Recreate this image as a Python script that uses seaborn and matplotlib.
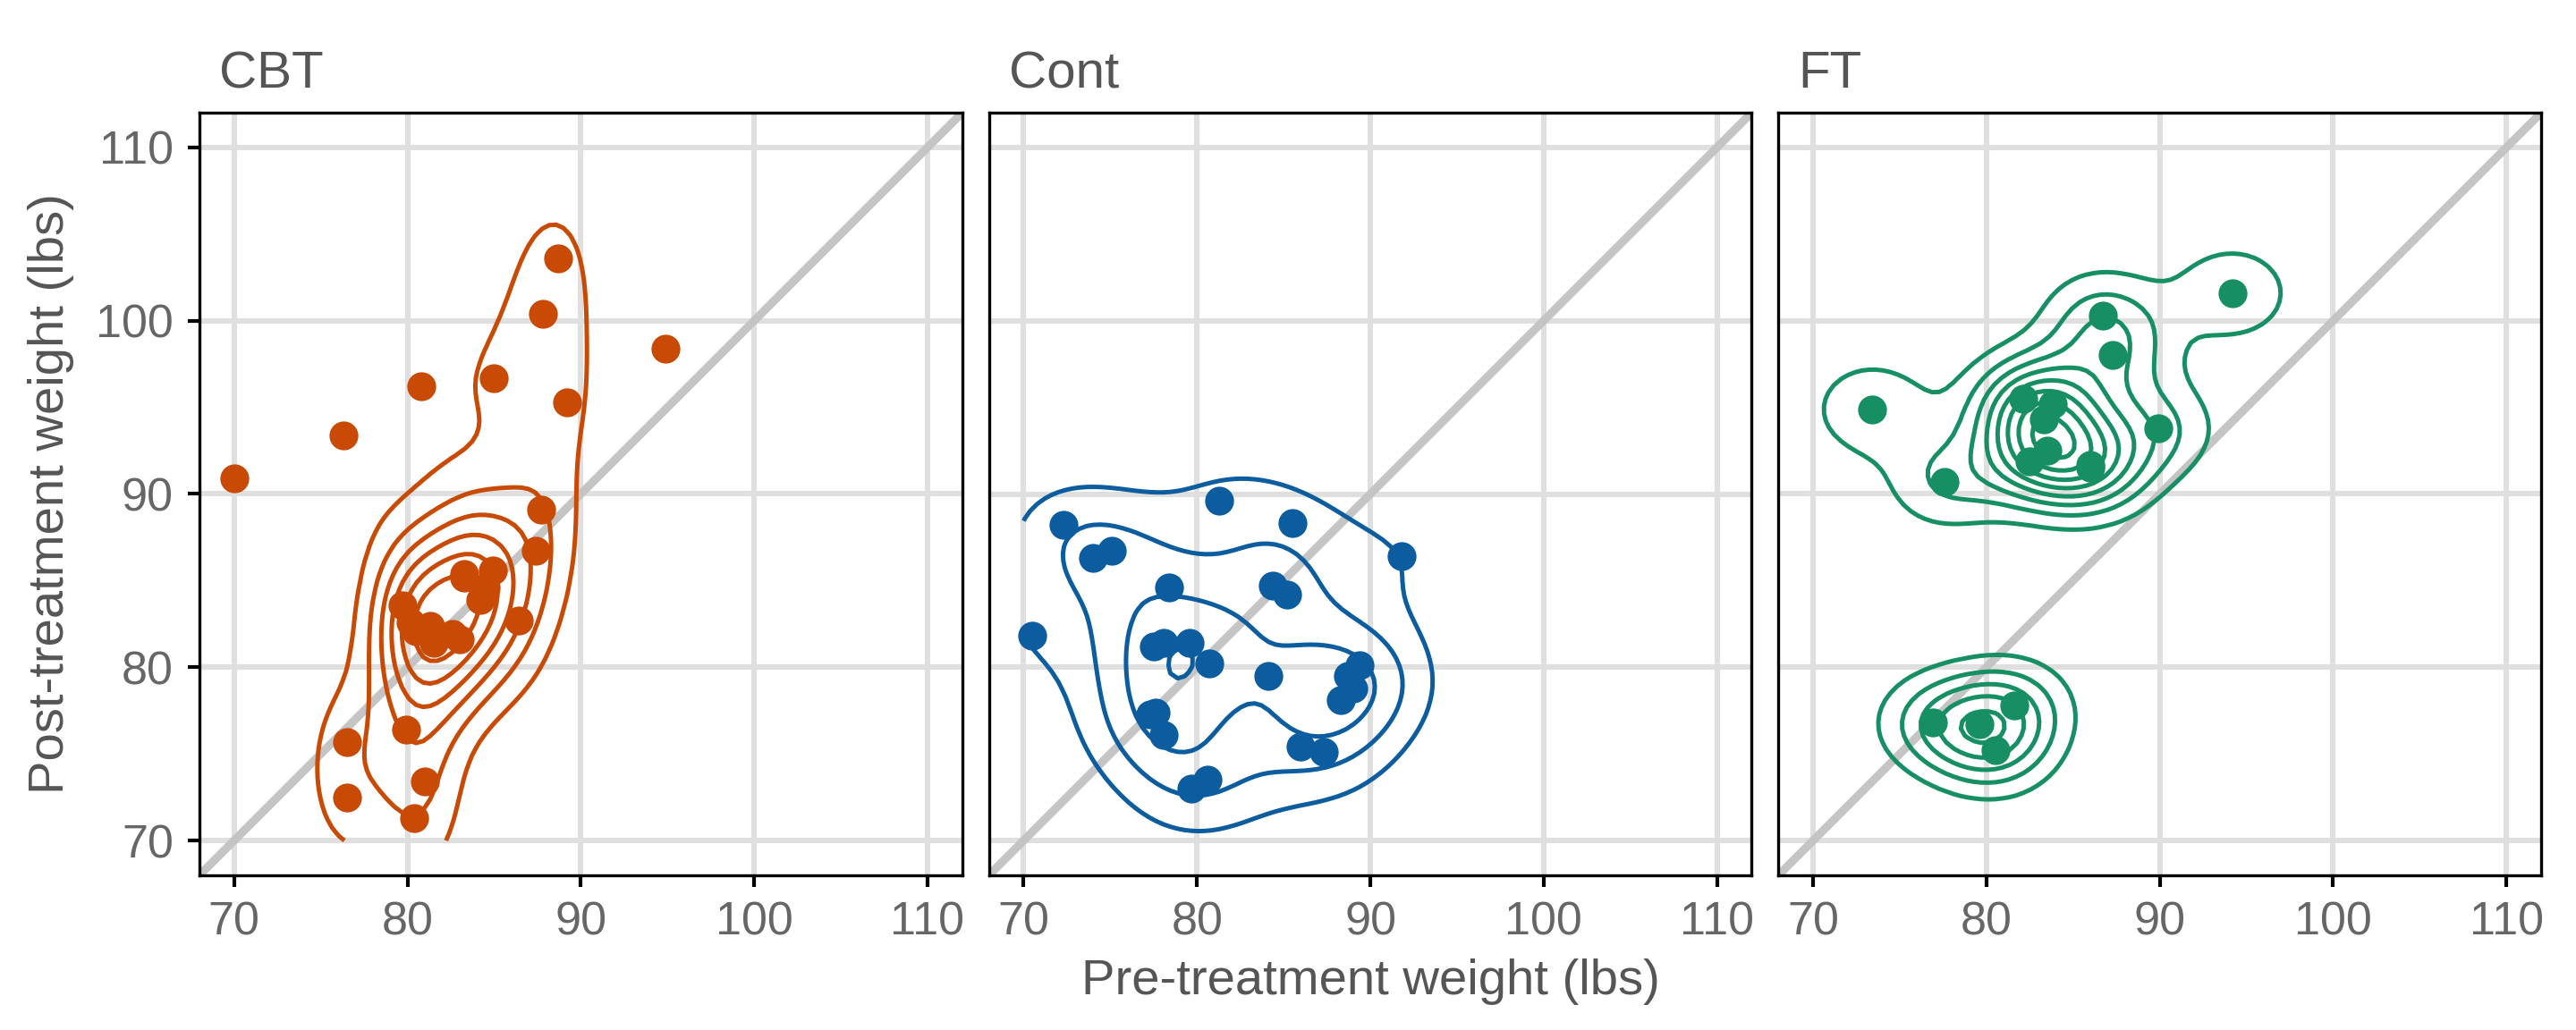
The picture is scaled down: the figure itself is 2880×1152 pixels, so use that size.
import numpy as np
import pandas as pd
import matplotlib
matplotlib.use("Agg")
import matplotlib.pyplot as plt
from matplotlib.ticker import MaxNLocator
import seaborn as sns

# anorexia data (MASS): pre / post treatment weights
treatments = ["CBT", "Cont", "FT"]

cbt_pre = [80.5, 84.9, 81.5, 82.6, 79.9, 88.7, 94.9, 76.3, 81.0, 80.5, 85.0, 89.2, 81.3, 76.5,
           70.0, 80.4, 83.3, 83.0, 87.7, 84.2, 86.4, 76.5, 80.2, 87.8, 83.3, 79.7, 84.5, 80.8, 87.4]
cbt_post = [82.2, 85.6, 81.4, 81.9, 76.4, 103.6, 98.4, 93.4, 73.4, 82.1, 96.7, 95.3, 82.4, 72.5,
            90.9, 71.3, 85.4, 81.6, 89.1, 83.9, 82.7, 75.7, 82.6, 100.4, 85.2, 83.6, 84.6, 96.2, 86.7]

cont_pre = [80.7, 89.4, 91.8, 74.0, 78.1, 88.3, 87.3, 75.1, 80.6, 78.4, 77.6, 88.7, 81.3,
            78.1, 70.5, 77.3, 85.2, 86.0, 84.1, 79.7, 85.5, 84.4, 79.6, 77.5, 72.3, 89.0]
cont_post = [80.2, 80.1, 86.4, 86.3, 76.1, 78.1, 75.1, 86.7, 73.5, 84.6, 77.4, 79.5, 89.6,
             81.4, 81.8, 77.3, 84.2, 75.4, 79.5, 73.0, 88.3, 84.7, 81.4, 81.2, 88.2, 78.8]

ft_pre = [83.8, 83.3, 86.0, 82.5, 86.7, 79.6, 76.9, 94.2, 73.4, 80.5, 81.6, 82.1, 77.6,
          83.5, 89.9, 86.0, 87.3]
ft_post = [95.2, 94.3, 91.5, 91.9, 100.3, 76.7, 76.8, 101.6, 94.9, 75.2, 77.8, 95.5, 90.7,
           92.5, 93.8, 91.7, 98.0]

ticks = [70, 80, 90, 100, 110]
colors = {"CBT": "#C94A05", "Cont": "#0C5CA0", "FT": "#168F63"}

df = pd.concat([
    pd.DataFrame({"Treat": "CBT", "pre": cbt_pre, "post": cbt_post}),
    pd.DataFrame({"Treat": "Cont", "pre": cont_pre, "post": cont_post}),
    pd.DataFrame({"Treat": "FT", "pre": ft_pre, "post": ft_post}),
])


def bw_nrd(v):
    v = np.asarray(v)
    q = np.quantile(v, [0.25, 0.75])
    return 4 * 1.06 * min(v.std(ddof=1), (q[1] - q[0]) / 1.34) * len(v) ** (-0.2)


def kde2d(x, y, lims=(70, 110), n=100):
    # same as MASS::kde2d with default bandwidth
    x, y = np.asarray(x), np.asarray(y)
    hx, hy = bw_nrd(x) / 4, bw_nrd(y) / 4
    g = np.linspace(lims[0], lims[1], n)
    ax_ = (g[:, None] - x[None, :]) / hx
    ay_ = (g[:, None] - y[None, :]) / hy
    dx = np.exp(-0.5 * ax_ ** 2) / np.sqrt(2 * np.pi)
    dy = np.exp(-0.5 * ay_ ** 2) / np.sqrt(2 * np.pi)
    z = dx @ dy.T / (len(x) * hx * hy)
    return g, z


dens = {t: kde2d(d["pre"], d["post"]) for t, d in df.groupby("Treat")}
zmax = max(z.max() for g, z in dens.values())
zmin = min(z.min() for g, z in dens.values())
levels = MaxNLocator(nbins=10, steps=[1, 2, 5, 10]).tick_values(zmin, zmax)
levels = levels[(levels > zmin) & (levels < zmax)]

sns.set_style("white")
plt.rcParams["font.family"] = ["Liberation Sans", "DejaVu Sans"]

g = sns.FacetGrid(df, col="Treat", col_order=treatments, height=3.2, aspect=1,
                  sharex=True, sharey=True, despine=False)
fig = g.figure
fig.set_size_inches(9.6, 3.84)
fig.subplots_adjust(left=223 / 2880, right=2841 / 2880, bottom=1 - 979 / 1152,
                    top=1 - 126 / 1152, wspace=30 / 853)

for i, t in enumerate(treatments):
    ax = g.axes_dict[t]
    d = df[df["Treat"] == t]
    ax.axline((70, 70), slope=1, color="#C4C4C4", lw=2.2, zorder=1)
    gx, z = dens[t]
    ax.contour(gx, gx, z.T, levels=levels, colors=colors[t], linewidths=1.2, zorder=2)
    sns.scatterplot(data=d, x="pre", y="post", color=colors[t], s=60, linewidth=0,
                    ax=ax, zorder=3)
    ax.set_xlim(68, 112)
    ax.set_ylim(68, 112)
    ax.set_aspect("equal")
    ax.set_xticks(ticks)
    ax.set_yticks(ticks)
    ax.grid(True, color="#DFDFDF", lw=1.45, zorder=0)
    ax.set_axisbelow(True)
    for s in ax.spines.values():
        s.set_color("black")
        s.set_linewidth(0.8)
    ax.tick_params(axis="x", direction="out", length=3.2, width=1.0, pad=3.6,
                   labelsize=12.5, labelcolor="#666666", color="black", bottom=True)
    if i == 0:
        ax.tick_params(axis="y", direction="out", length=3.2, width=1.0, pad=3.8,
                       labelsize=12.5, labelcolor="#666666", color="black", left=True)
    else:
        ax.tick_params(axis="y", left=False, labelleft=False)
    ax.set_title("")
    ax.set_xlabel("")
    ax.set_ylabel("")
    ax.text(0.026, 1.033, t, transform=ax.transAxes, ha="left", va="baseline",
            fontsize=14, color="#555555")

fig.text(1532 / 2880, 1 - 1112 / 1152, "Pre-treatment weight (lbs)", ha="center",
         va="baseline", fontsize=13.5, color="#555555")
fig.text(57 / 2880, 1 - 552 / 1152, "Post-treatment weight (lbs)", ha="center",
         va="center", rotation=90, fontsize=13.5, color="#555555")

fig.savefig("out.png", dpi=300)
